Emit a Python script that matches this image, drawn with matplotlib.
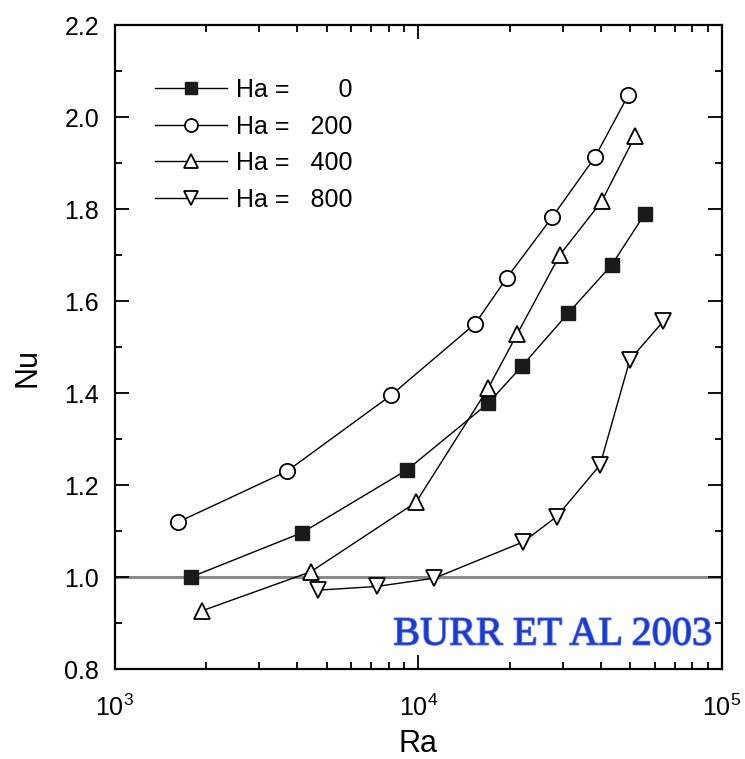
import matplotlib
matplotlib.use('Agg')
import matplotlib.pyplot as plt
import matplotlib.patheffects as pe
from matplotlib.ticker import LogLocator, MultipleLocator, NullFormatter

plt.rcParams['font.family'] = ['Liberation Sans', 'DejaVu Sans']

# Nu vs Ra for each Hartmann number
ra_0 = [1780, 4150, 9170, 17000, 21900, 31200, 43400, 55800]
nu_0 = [1.00, 1.097, 1.233, 1.378, 1.458, 1.574, 1.679, 1.790]
ra_200 = [1620, 3690, 8120, 15400, 19550, 27650, 38200, 49200]
nu_200 = [1.12, 1.23, 1.395, 1.551, 1.650, 1.783, 1.913, 2.048]
ra_400 = [1940, 4430, 9840, 17000, 21200, 29300, 40200, 51800]
nu_400 = [0.927, 1.012, 1.163, 1.411, 1.529, 1.701, 1.817, 1.959]
ra_800 = [4690, 7300, 11300, 22200, 28600, 39700, 49800, 64100]
nu_800 = [0.972, 0.98, 0.998, 1.077, 1.132, 1.244, 1.473, 1.556]

labels = ['Ha =       0', 'Ha =   200', 'Ha =   400', 'Ha =   800']

fig = plt.figure(figsize=(7.45, 7.59), dpi=100)
ax = fig.add_axes([0.1537, 0.1182, 0.8153, 0.8488])

ax.axhline(1.0, color='#8a8a8a', lw=2.2, zorder=1)

ax.plot(ra_0, nu_0, '-', color='black', lw=1.0, marker='s', ms=10,
        mfc='#1a1a1a', mec='#1a1a1a', label=labels[0], zorder=3)
ax.plot(ra_200, nu_200, '-', color='black', lw=1.0, marker='o', ms=11,
        mfc='white', mec='black', mew=1.3, label=labels[1], zorder=3)
ax.plot(ra_400, nu_400, '-', color='black', lw=1.0, marker='^', ms=12,
        mfc='white', mec='black', mew=1.3, label=labels[2], zorder=3)
ax.plot(ra_800, nu_800, '-', color='black', lw=1.0, marker='v', ms=12,
        mfc='white', mec='black', mew=1.3, label=labels[3], zorder=3)

ax.set_xscale('log')
ax.set_xlim(1e3, 1e5)
ax.set_ylim(0.8, 2.2)
ax.yaxis.set_major_locator(MultipleLocator(0.2))
ax.yaxis.set_minor_locator(MultipleLocator(0.1))
ax.xaxis.set_minor_locator(LogLocator(base=10, subs=range(2, 10)))
ax.xaxis.set_minor_formatter(NullFormatter())
ax.yaxis.set_major_formatter(plt.FuncFormatter(lambda v, p: f'{v:.1f}'))

ax.tick_params(which='both', direction='in', top=True, right=True, width=1.3)
ax.tick_params(which='major', length=10, labelsize=18)
ax.tick_params(axis='y', which='major', pad=11)
ax.tick_params(axis='x', which='major', pad=18)
ax.tick_params(which='minor', length=5)
for s in ax.spines.values():
    s.set_linewidth(1.6)

ax.set_xlabel('Ra', fontsize=22, labelpad=6)
ax.set_ylabel('Nu', fontsize=22)
ax.yaxis.set_label_coords(-0.119, 0.469)

ax.legend(loc='upper left', bbox_to_anchor=(0.05, 0.933), frameon=False,
          fontsize=18, handlelength=2.9, handletextpad=0.35, labelspacing=0.5,
          borderaxespad=0, numpoints=1, markerscale=0.85)

ax.text(0.983, 0.053, 'BURR ET AL 2003', transform=ax.transAxes, ha='right',
        va='center', fontsize=29, color='#1a3ad6', family='Liberation Serif',
        path_effects=[pe.withStroke(linewidth=1.2, foreground='#5f7be8')])

fig.savefig('out.png', dpi=100)
